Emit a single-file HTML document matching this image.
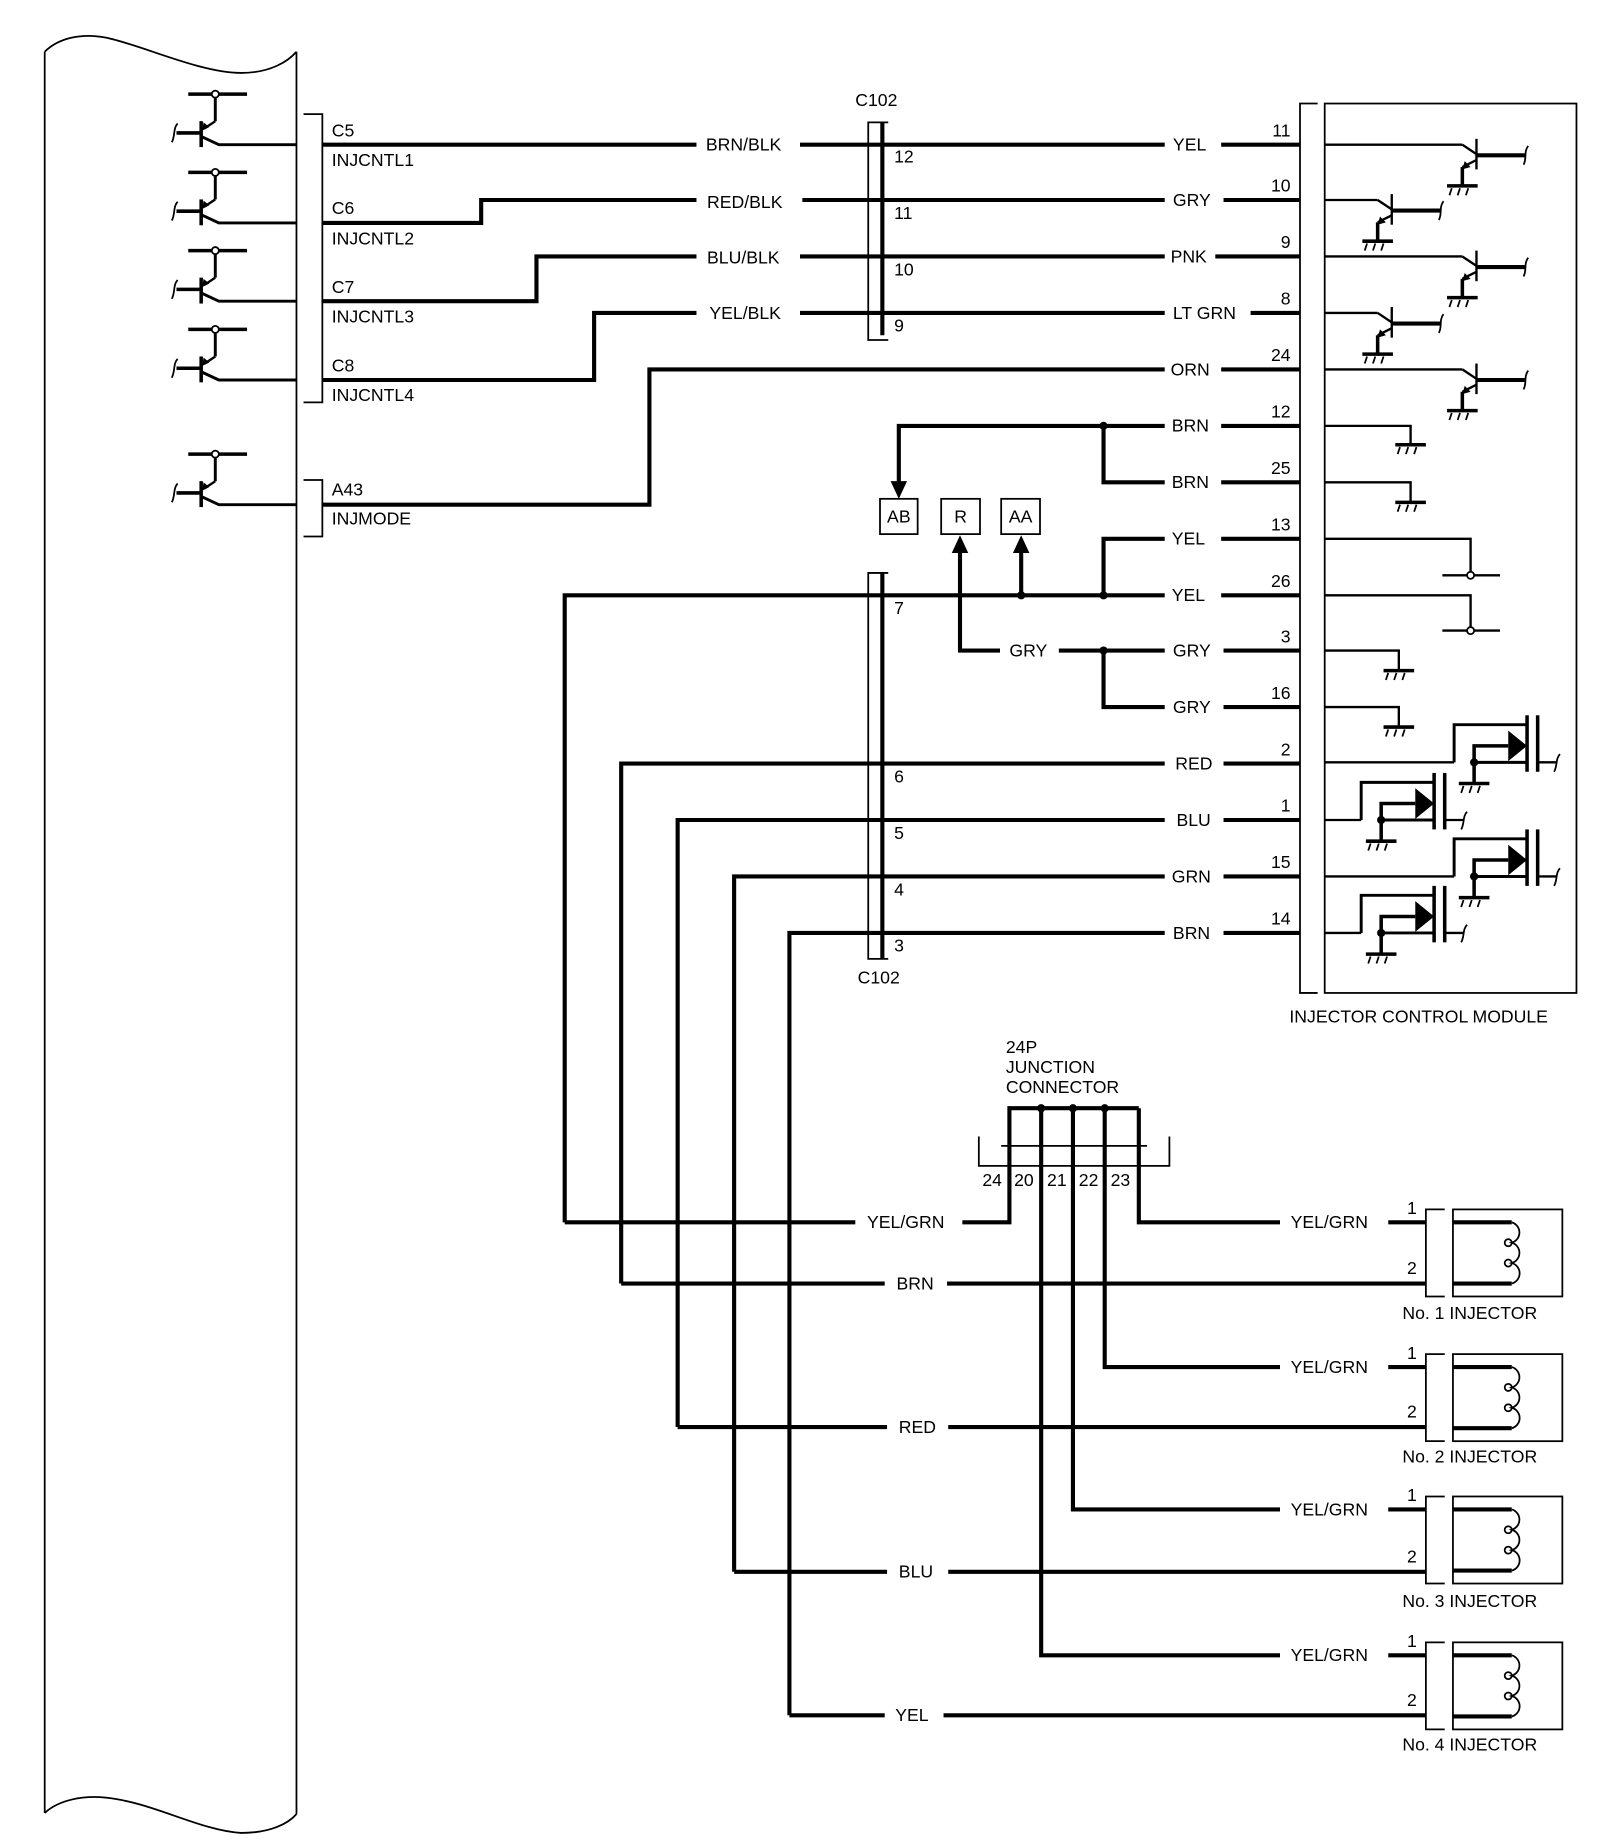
<!DOCTYPE html>
<html><head><meta charset="utf-8"><style>
html,body{margin:0;padding:0;background:#fff;}
svg{display:block;}
text{font-family:"Liberation Sans",Arial,sans-serif;font-size:15px;fill:#000;}
</style></head><body>
<svg width="1600" height="1844" viewBox="0 0 1360 1567.4" xmlns="http://www.w3.org/2000/svg">
<defs>
<g id="gnd" stroke="#000" fill="none">
<line x1="-13" y1="0" x2="13" y2="0" stroke-width="3"/>
<path d="M-9,2 L-11,8 M-2,2 L-4,8 M5,2 L3,8" stroke-width="1.5"/>
</g>
<g id="ltr" stroke="#000" fill="none">
<line x1="160" y1="80" x2="210" y2="80" stroke-width="3"/>
<line x1="183" y1="83" x2="183" y2="103" stroke-width="2.5"/>
<line x1="183" y1="103" x2="174" y2="109" stroke-width="2"/>
<polygon points="172,111 173,104 178,108" fill="#000" stroke="none"/>
<circle cx="183" cy="80" r="3" fill="#fff" stroke-width="1.5"/>
<line x1="171" y1="103" x2="171" y2="125" stroke-width="3"/>
<line x1="150" y1="113" x2="171" y2="113" stroke-width="3"/>
<path d="M146,121 C149,116 147,109 151,105" stroke-width="1.5"/>
<polyline points="171,116 186,123 252,123" stroke-width="2.5"/>
</g>
<g id="npn" stroke="#000" fill="none">
<line x1="0" y1="0" x2="12" y2="8" stroke-width="2"/>
<line x1="12" y1="-5" x2="12" y2="21" stroke-width="2"/>
<line x1="12" y1="9" x2="53" y2="9" stroke-width="3.5"/>
<path d="M52,17 C55,12 52,6 56,1" stroke-width="1.5"/>
<line x1="12" y1="13" x2="0" y2="19" stroke-width="2"/>
<polygon points="0,21 2,14 7,19" fill="#000" stroke="none"/>
<line x1="0" y1="19" x2="0" y2="35" stroke-width="3"/>
<use href="#gnd" x="0" y="35"/>
</g>
<g id="fet" stroke="#000" fill="none">
<polyline points="0,0 0,-32 62,-32" stroke-width="2.5"/>
<line x1="62" y1="-40" x2="62" y2="8" stroke-width="3"/>
<line x1="71" y1="-40" x2="71" y2="8" stroke-width="3"/>
<line x1="17" y1="0" x2="62" y2="0" stroke-width="2.5"/>
<polyline points="17,0 17,-14 46,-14" stroke-width="3"/>
<polygon points="46,-27 46,-1 62,-14" fill="#000" stroke="none"/>
<line x1="17" y1="0" x2="17" y2="18" stroke-width="3"/>
<circle cx="17" cy="0" r="3.5" fill="#000" stroke="none"/>
<use href="#gnd" x="17" y="18"/>
<line x1="71" y1="0" x2="87" y2="0" stroke-width="2"/>
<path d="M85,8 C88,3 86,-3 90,-7" stroke-width="1.5"/>
</g>
<g id="inj" stroke="#000" fill="none">
<polyline points="1228,-11 1212,-11 1212,63 1228,63" stroke-width="1.5"/>
<rect x="1235" y="-11" width="93" height="74" stroke-width="1.5"/>
<line x1="1235" y1="0" x2="1285" y2="0" stroke-width="3.5"/>
<line x1="1235" y1="52" x2="1285" y2="52" stroke-width="3.5"/>
<path d="M1285,0 a9,9 0 0 1 0,17.3 a9,9 0 0 1 0,17.3 a9,9 0 0 1 0,17.4" stroke-width="1.5"/>
<circle cx="1282" cy="17.3" r="3" stroke-width="1.5"/>
<circle cx="1282" cy="34.6" r="3" stroke-width="1.5"/>
</g>
</defs>

<!-- ECM frame -->
<g stroke="#000" fill="none" stroke-width="1.5">
<path d="M38,44 C50,32 70,28 90,32 C120,38 170,62 205,62 C230,62 245,52 252,44"/>
<path d="M38,44 V1541 M252,44 V1542"/>
<path d="M38,1541 C50,1530 70,1526 90,1528 C130,1532 170,1556 205,1558 C230,1558 245,1550 252,1542"/>
<polyline points="258,97 274,97 274,342 258,342"/>
<polyline points="258,408 274,408 274,456 258,456"/>
<polyline points="755,104 738,104 738,289 755,289"/>
<polyline points="755,487 738,487 738,815 755,815"/>
<polyline points="1120,88 1105,88 1105,844 1120,844"/>
<rect x="1126" y="88" width="214" height="756"/>
<polyline points="832,966 832,991 994,991 994,966"/>
<line x1="851" y1="974" x2="975" y2="974"/>
<rect x="748" y="424" width="32" height="30"/>
<rect x="800" y="424" width="33" height="30"/>
<rect x="851" y="424" width="33" height="30"/>
</g>

<use href="#ltr" x="0" y="0"/>
<use href="#ltr" x="0" y="66.5"/>
<use href="#ltr" x="0" y="133"/>
<use href="#ltr" x="0" y="200"/>
<use href="#ltr" x="0" y="306"/>

<!-- thick wires -->
<g stroke="#000" fill="none" stroke-width="3.5">
<line x1="750" y1="104" x2="750" y2="285"/>
<line x1="750" y1="487" x2="750" y2="815"/>
<path d="M274,123 H592 M680,123 H990 M1038,123 H1105"/>
<path d="M274,189.5 H409 V170 H592 M682,170 H990 M1040,170 H1105"/>
<path d="M274,256 H456 V218 H592 M680,218 H990 M1033,218 H1105"/>
<path d="M274,323 H505 V266 H592 M680,266 H990 M1063,266 H1105"/>
<path d="M274,429 H552 V314 H990 M1038,314 H1105"/>
<path d="M764,412 V362 H990 M1038,362 H1105"/>
<path d="M938,362 V410 H990 M1038,410 H1105"/>
<path d="M938,506 V458 H990 M1038,458 H1105"/>
<path d="M480,1039 V506 H990 M1038,506 H1105"/>
<path d="M868,506 V468"/>
<path d="M816,468 V553 H850 M900,553 H990 M1040,553 H1105"/>
<path d="M938,553 V601 H990 M1040,601 H1105"/>
<path d="M528,1091 V649 H990 M1040,649 H1105"/>
<path d="M576,1213 V697 H990 M1040,697 H1105"/>
<path d="M624,1336 V745 H990 M1040,745 H1105"/>
<path d="M671,1458 V793 H990 M1040,793 H1105"/>
<path d="M480,1039 H727 M818,1039 H858 V942 H968"/>
<path d="M528,1091 H752 M805,1091 H1212"/>
<path d="M576,1213 H754 M806,1213 H1212"/>
<path d="M624,1336 H754 M806,1336 H1212"/>
<path d="M671,1458 H752 M802,1458 H1212"/>
<path d="M968,942 V1039 H1088 M1180,1039 H1212"/>
<path d="M939,942 V1162 H1088 M1180,1162 H1212"/>
<path d="M912,942 V1283 H1088 M1180,1283 H1212"/>
<path d="M885,942 V1407 H1088 M1180,1407 H1212"/>
</g>
<g fill="#000">
<polygon points="757,409 771,409 764,424"/>
<polygon points="809,470 823,470 816,455"/>
<polygon points="861,470 875,470 868,455"/>
<circle cx="938" cy="362" r="3.5"/><circle cx="938" cy="506" r="3.5"/>
<circle cx="868" cy="506" r="3.5"/><circle cx="938" cy="553" r="3.5"/>
<circle cx="885" cy="942" r="3.5"/><circle cx="912" cy="942" r="3.5"/><circle cx="939" cy="942" r="3.5"/>
</g>

<!-- module internals -->
<g stroke="#000" fill="none" stroke-width="2">
<path d="M1126,123 H1243 M1126,170 H1171 M1126,218 H1243 M1126,266 H1171 M1126,314 H1243"/>
<path d="M1126,362 H1199 V378 M1126,410 H1199 V427"/>
<path d="M1126,458 H1250 V489 M1226,489 H1275 M1126,506 H1250 V536 M1226,536 H1275"/>
<path d="M1126,553 H1189 V570 M1126,601 H1189 V618"/>
<path d="M1126,648 H1236 M1126,697 H1157 M1126,745 H1236 M1126,793 H1157"/>
<circle cx="1250" cy="489" r="3" fill="#fff" stroke-width="1.5"/>
<circle cx="1250" cy="536" r="3" fill="#fff" stroke-width="1.5"/>
</g>
<use href="#npn" x="1243" y="123"/>
<use href="#npn" x="1171" y="170"/>
<use href="#npn" x="1243" y="218"/>
<use href="#npn" x="1171" y="266"/>
<use href="#npn" x="1243" y="314"/>
<use href="#gnd" x="1199" y="378"/>
<use href="#gnd" x="1199" y="427"/>
<use href="#gnd" x="1189" y="570"/>
<use href="#gnd" x="1189" y="618"/>
<use href="#fet" x="1236" y="648"/>
<use href="#fet" x="1157" y="697"/>
<use href="#fet" x="1236" y="745"/>
<use href="#fet" x="1157" y="793"/>

<use href="#inj" x="0" y="1039"/>
<use href="#inj" x="0" y="1162"/>
<use href="#inj" x="0" y="1283"/>
<use href="#inj" x="0" y="1407"/>

<!-- text -->
<text x="282" y="116">C5</text><text x="282" y="141">INJCNTL1</text>
<text x="282" y="182">C6</text><text x="282" y="208">INJCNTL2</text>
<text x="282" y="249">C7</text><text x="282" y="274">INJCNTL3</text>
<text x="282" y="316">C8</text><text x="282" y="341">INJCNTL4</text>
<text x="282" y="421">A43</text><text x="282" y="446">INJMODE</text>

<text x="600" y="128">BRN/BLK</text>
<text x="601" y="177">RED/BLK</text>
<text x="601" y="224">BLU/BLK</text>
<text x="603" y="271">YEL/BLK</text>

<text x="727" y="90">C102</text>
<text x="760" y="138">12</text><text x="760" y="186">11</text><text x="760" y="234">10</text><text x="760" y="282">9</text>
<text x="760" y="522">7</text><text x="760" y="665">6</text><text x="760" y="713">5</text><text x="760" y="761">4</text><text x="760" y="809">3</text>
<text x="729" y="836">C102</text>

<text x="997" y="128">YEL</text><text x="997" y="175">GRY</text><text x="995" y="223">PNK</text>
<text x="997" y="271">LT GRN</text><text x="995" y="319">ORN</text><text x="996" y="367">BRN</text>
<text x="996" y="415">BRN</text><text x="996" y="463">YEL</text><text x="996" y="511">YEL</text>
<text x="997" y="558">GRY</text><text x="997" y="606">GRY</text><text x="999" y="654">RED</text>
<text x="1000" y="702">BLU</text><text x="996" y="750">GRN</text><text x="997" y="798">BRN</text>
<text x="858" y="558">GRY</text>

<g text-anchor="end">
<text x="1097" y="116">11</text><text x="1097" y="163">10</text><text x="1097" y="211">9</text>
<text x="1097" y="259">8</text><text x="1097" y="307">24</text><text x="1097" y="355">12</text>
<text x="1097" y="403">25</text><text x="1097" y="451">13</text><text x="1097" y="499">26</text>
<text x="1097" y="546">3</text><text x="1097" y="594">16</text><text x="1097" y="642">2</text>
<text x="1097" y="690">1</text><text x="1097" y="738">15</text><text x="1097" y="786">14</text>
</g>
<g text-anchor="middle">
<text x="764" y="444">AB</text><text x="816.5" y="444">R</text><text x="867.5" y="444">AA</text>
</g>
<text x="1096" y="869">INJECTOR CONTROL MODULE</text>

<text x="855" y="895">24P</text><text x="855" y="912">JUNCTION</text><text x="855" y="929">CONNECTOR</text>
<text x="835" y="1008">24</text><text x="862" y="1008">20</text><text x="890" y="1008">21</text><text x="917" y="1008">22</text><text x="944" y="1008">23</text>

<text x="737" y="1044">YEL/GRN</text>
<text x="762" y="1096">BRN</text>
<text x="764" y="1218">RED</text>
<text x="764" y="1341">BLU</text>
<text x="761" y="1463">YEL</text>

<text x="1097" y="1044">YEL/GRN</text><text x="1097" y="1167">YEL/GRN</text>
<text x="1097" y="1288">YEL/GRN</text><text x="1097" y="1412">YEL/GRN</text>

<text x="1196" y="1032">1</text><text x="1196" y="1083">2</text>
<text x="1196" y="1155">1</text><text x="1196" y="1205">2</text>
<text x="1196" y="1276">1</text><text x="1196" y="1328">2</text>
<text x="1196" y="1400">1</text><text x="1196" y="1450">2</text>

<text x="1192" y="1121">No. 1 INJECTOR</text>
<text x="1192" y="1243">No. 2 INJECTOR</text>
<text x="1192" y="1366">No. 3 INJECTOR</text>
<text x="1192" y="1488">No. 4 INJECTOR</text>
</svg>
</body></html>
